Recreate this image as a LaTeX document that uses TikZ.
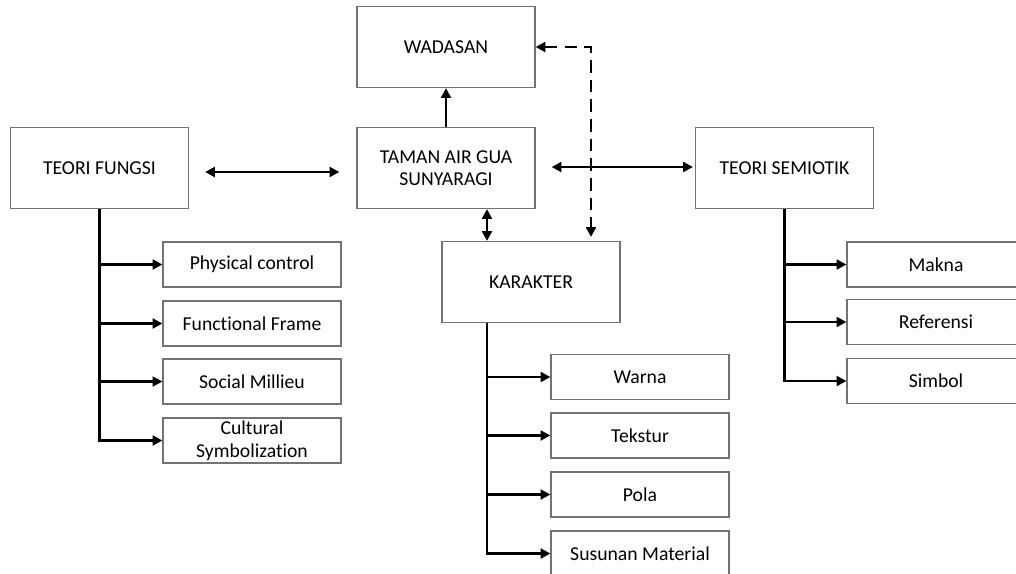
\documentclass[tikz,border=0pt]{standalone}
\usepackage{fontspec}
\setmainfont{Carlito}[Ligatures=NoCommon]
\usetikzlibrary{arrows.meta}

\tikzset{
	kotak/.style={draw=black!55, line width=0.8pt, minimum width=4.45cm, minimum height=2.025cm,
		inner sep=0pt, align=center, text=black, font=\fontsize{14}{16}\selectfont},
	subkotak/.style={kotak, minimum height=1.125cm},
	panah/.style={line width=2pt, -{Triangle[length=7pt,width=7pt]}},
	panahdua/.style={line width=2pt, {Triangle[length=7pt,width=7pt]}-{Triangle[length=7pt,width=7pt]}},
	putus/.style={panahdua, dash pattern=on 9pt off 5pt}
}

\begin{document}
\begin{tikzpicture}[x=0.025cm, y=-0.025cm]
			%%%%% START %%%%%
			\useasboundingbox (0, 0) rectangle (1016, 573);
			\clip (0, 0) rectangle (1016, 573);
			
			\node[kotak] (wadasan) at (446, 47) {WADASAN};
			\node[kotak] (taman) at (446, 168) {TAMAN AIR GUA\\SUNYARAGI};
			\node[kotak] (fungsi) at (99.5, 168) {TEORI FUNGSI};
			\node[kotak] (semiotik) at (784.5, 168) {TEORI SEMIOTIK};
			\node[kotak] (karakter) at (531, 282) {KARAKTER};
			
			\node[subkotak] (physical) at (252, 264.5) {Physical control};
			\node[subkotak] (functional) at (252, 323.5) {Functional Frame};
			\node[subkotak] (social) at (252, 381.5) {Social Millieu};
			\node[subkotak] (cultural) at (252, 440.5) {Cultural\\Symbolization};
			
			\node[subkotak] (warna) at (640, 377) {Warna};
			\node[subkotak] (tekstur) at (640, 435.5) {Tekstur};
			\node[subkotak] (pola) at (640, 494.5) {Pola};
			\node[subkotak] (susunan) at (640, 553.5) {Susunan Material};
			
			\node[subkotak] (makna) at (936, 264.5) {Makna};
			\node[subkotak] (referensi) at (936, 322) {Referensi};
			\node[subkotak] (simbol) at (936, 381) {Simbol};
			
			\coordinate (kx) at (487, 300);
			\coordinate (dx) at (591, 300);
			
			% hubungan utama
			\draw[panah] (taman) -- (wadasan);
			\draw[panahdua] ([shift={(16, 4)}]fungsi.east) -- ([shift={(-17, 4)}]taman.west);
			\draw[panahdua] ([shift={(16, -1)}]taman.east) -- ([shift={(-2, -1)}]semiotik.west);
			\draw[panahdua] (taman.south -| kx) -- (karakter.north -| kx);
			\draw[putus] (wadasan.east) -| ([yshift=0.1cm]karakter.north -| dx);
			
			% teori fungsi
			\draw[panah] (fungsi.south) |- (cultural.west);
			\draw[panah] (fungsi.south |- physical.west) -- (physical.west);
			\draw[panah] (fungsi.south |- functional.west) -- (functional.west);
			\draw[panah] (fungsi.south |- social.west) -- (social.west);
			
			% karakter
			\draw[panah] (karakter.south -| kx) |- (susunan.west);
			\draw[panah] (kx |- warna.west) -- (warna.west);
			\draw[panah] (kx |- tekstur.west) -- (tekstur.west);
			\draw[panah] (kx |- pola.west) -- (pola.west);
			
			% teori semiotik
			\draw[panah] (semiotik.south) |- (simbol.west);
			\draw[panah] (semiotik.south |- makna.west) -- (makna.west);
			\draw[panah] (semiotik.south |- referensi.west) -- (referensi.west);
			%%%%% END %%%%%
\end{tikzpicture}
\end{document}
